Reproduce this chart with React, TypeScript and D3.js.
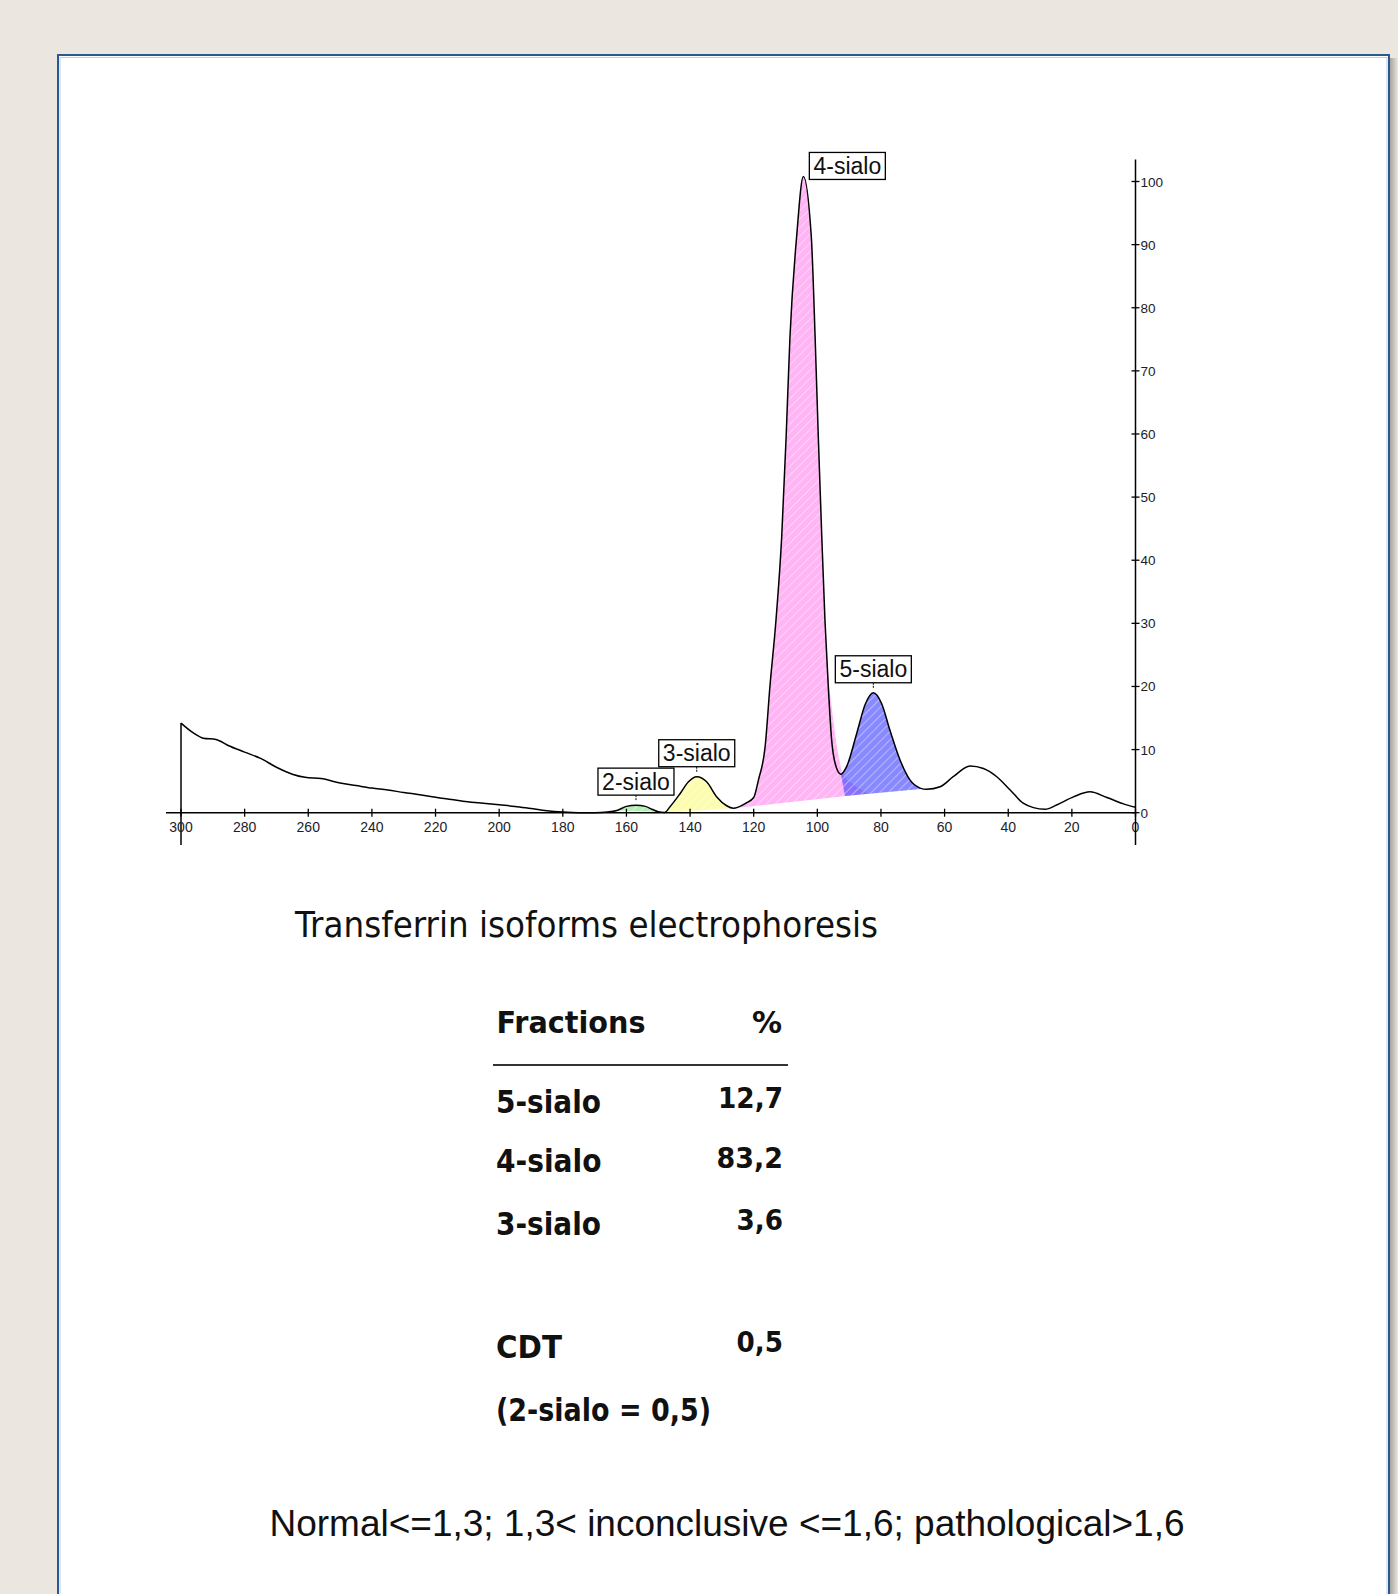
import React from "react";
import * as d3 from "d3";

// densitometry trace: [migration, intensity]
const trace: [number, number][] = [
  [300, 14.2], [296, 12.6], [293, 11.8], [289, 11.6], [285, 10.6], [280, 9.6],
  [275, 8.6], [270, 7.2], [265, 6.1], [261, 5.6], [256, 5.4], [250, 4.7],
  [245, 4.3], [240, 3.9], [235, 3.6], [230, 3.2], [225, 2.85], [220, 2.45],
  [215, 2.1], [210, 1.75], [205, 1.5], [200, 1.25], [195, 1.0], [190, 0.65],
  [185, 0.3], [180, 0.1], [175, 0.0], [170, 0.0], [166, 0.1], [163, 0.35],
  [160, 1.0], [157, 1.2], [154, 1.0], [152, 0.55], [150, 0.15], [148, 0.05],
  [146.3, 0.95], [143.1, 3.05], [140.5, 4.9], [137.9, 5.7], [134.8, 4.9],
  [131.6, 2.5], [128.5, 1.1], [126.4, 0.7], [122.5, 1.5], [120, 2.4],
  [118.5, 5.2], [116.4, 10.5], [114.9, 20], [113.0, 30.5], [111.2, 43.7],
  [109.8, 59.6], [108.6, 75.4], [106.5, 91.3], [104.4, 100.8], [101.9, 91.3],
  [100.7, 75.4], [99.7, 59.6], [98.6, 43.7], [97.6, 30.5], [96.5, 19.4],
  [95.5, 11.5], [94.4, 7.8], [92.6, 6.1], [90.8, 7.3], [87.6, 12.6], [85, 17.1],
  [82.4, 19.0], [79.8, 17.3], [77.2, 13.1], [74, 8.35], [70.9, 5.2], [67.7, 3.9],
  [65.6, 3.7], [61.4, 4.1], [57.3, 5.7], [52, 7.4], [47.8, 7.0], [43.6, 5.7],
  [39.4, 3.6], [35.3, 1.5], [32.1, 0.8], [28.4, 0.54], [24.8, 1.22], [19.5, 2.5],
  [14.3, 3.3], [9, 2.4], [3.8, 1.4], [0, 0.85],
];

// integrated fractions
const fractionNames = ["2-sialo", "3-sialo", "4-sialo", "5-sialo"];
const fractionRanges: [number, number][] = [[163, 150], [148, 126.4], [126.4, 97.6], [92.6, 67.7]];
// fitted right flank of the 4-sialo peak, running under 5-sialo
const fourSialoTail: [number, number][] = [
  [97.6, 30.5], [96.6, 22], [95.5, 16.8], [94.3, 12], [93.3, 8.9], [92.3, 6.6],
  [91.3, 5.6], [89, 4.6], [86.5, 3.7], [84, 3.05],
];
const fourSialoBase: [number, number][] = [[84, 3.05], [126.4, 0.7]];
const fiveSialoBase: [number, number][] = [[66.7, 3.8], [91.3, 2.65]];

// result table
const tableNames = ["5-sialo", "4-sialo", "3-sialo"];
const tablePct = ["12,7", "83,2", "3,6"];
const cdtValue = "0,5";
const twoSialoValue = "0,5";

const fillColors: Record<string, string> = {
  "2-sialo": "#b2efb2",
  "3-sialo": "#fdfdb0",
  "4-sialo": "#ffb4f4",
  "5-sialo": "#5050ff",
};

const W = 1398;
const H = 1594;

const App: React.FC = () => {
  const x = d3.scaleLinear().domain([300, 0]).range([181, 1135.5]);
  const y = d3.scaleLinear().domain([0, 100]).range([812.7, 181.5]);
  const line = d3
    .line<[number, number]>()
    .x((d) => x(d[0]))
    .y((d) => y(d[1]))
    .curve(d3.curveMonotoneX);
  const straight = (pts: [number, number][]) =>
    pts.map((p) => `L${x(p[0])},${y(p[1])}`).join("");

  const inRange = (r: [number, number]) => trace.filter((d) => d[0] <= r[0] && d[0] >= r[1]);

  // fill outlines
  const areas = fractionNames.map((name, i) => {
    const seg = inRange(fractionRanges[i]);
    let d = line(seg) || "";
    if (name === "4-sialo") {
      d += (line(fourSialoTail) || "").replace(/^M/, "L") + straight(fourSialoBase);
    } else if (name === "5-sialo") {
      d += straight(fiveSialoBase);
    }
    return { name, d: d + "Z", seg };
  });

  const axisTop = 159.6;
  const labels = areas.map((a) => {
    const peak = a.seg.reduce((m, p) => (p[1] > m[1] ? p : m), a.seg[0]);
    const px = x(peak[0]);
    const py = y(peak[1]);
    const bw = 76;
    const bh = 27;
    let bx = px - bw / 2;
    let by = py - 10 - bh;
    let tick = true;
    if (by < axisTop) {
      bx = px + 6;
      by = py + 3 - bh;
      tick = false;
    }
    return { name: a.name, px, py, bx, by, bw, bh, tick };
  });

  const xTicks = x.ticks(15);
  const yTicks = y.ticks(10);
  const axisY = y(0);
  const axisX = x(0);

  const rowY = [1113.3, 1172.3, 1235];
  const pctY = [1108.3, 1168.3, 1230];
  const nameLen = [105, 105.5, 105];
  const pctLen = [65, 66.5, 46.5];

  return (
    <svg
      width={W}
      height={H}
      style={{ position: "absolute", left: 0, top: 0, display: "block" }}
    >
      <defs>
        <pattern id="hatch" width="6" height="6" patternUnits="userSpaceOnUse" patternTransform="rotate(45)">
          <line x1="0" y1="0" x2="0" y2="6" stroke="#fff" strokeWidth="1.6" opacity="0.5" />
        </pattern>
        <linearGradient id="shadow" x1="0" x2="1" y1="0" y2="0">
          <stop offset="0" stopColor="#a8a49e" />
          <stop offset="1" stopColor="#ebe6e0" />
        </linearGradient>
      </defs>
      <rect width={W} height={H} fill="#ebe6e0" />
      <rect x={1390} y={58} width={8} height={H} fill="url(#shadow)" />
      <rect x={58} y={55} width={1331} height={1600} fill="#fff" stroke="#2c5890" strokeWidth={2} />
      <rect x={60} y={57.5} width={1327} height={1600} fill="none" stroke="#bccfe6" strokeWidth={1} />

      {/* fractions */}
      {areas.map((a) => (
        <g key={a.name}>
          <path
            d={a.d}
            fill={fillColors[a.name]}
            fillOpacity={a.name === "5-sialo" ? 0.68 : 1}
          />
          <path d={a.d} fill="url(#hatch)" />
        </g>
      ))}

      {/* trace */}
      <path d={line(trace) || ""} fill="none" stroke="#000" strokeWidth={1.5} />
      <line x1={x(300)} x2={x(300)} y1={y(trace[0][1])} y2={845} stroke="#000" strokeWidth={1.5} />

      {/* x axis */}
      <line x1={166} x2={axisX} y1={axisY} y2={axisY} stroke="#000" strokeWidth={1.5} />
      {xTicks.map((t) => (
        <g key={`x${t}`}>
          <line x1={x(t)} x2={x(t)} y1={axisY - 4} y2={axisY + 4} stroke="#000" strokeWidth={1.3} />
          <text
            x={x(t)}
            y={831.5}
            textAnchor="middle"
            fontFamily="Liberation Sans, Arial, sans-serif"
            fontSize={14}
            fill="#1c1c2a"
          >
            {t}
          </text>
        </g>
      ))}

      {/* y axis */}
      <line x1={axisX} x2={axisX} y1={axisTop} y2={845} stroke="#000" strokeWidth={1.5} />
      {yTicks.map((t) => (
        <g key={`y${t}`}>
          <line x1={axisX - 4} x2={axisX + 4} y1={y(t)} y2={y(t)} stroke="#000" strokeWidth={1.3} />
          <text
            x={axisX + 5}
            y={y(t) + 5}
            fontFamily="Liberation Sans, Arial, sans-serif"
            fontSize={13.5}
            fill="#1c1c2a"
          >
            {t}
          </text>
        </g>
      ))}

      {/* peak labels */}
      {labels.map((l) => (
        <g key={`l${l.name}`}>
          {l.tick && (
            <line
              x1={l.px}
              x2={l.px}
              y1={l.by + l.bh}
              y2={l.py - 4}
              stroke="#000"
              strokeWidth={1}
              strokeDasharray="2,1"
            />
          )}
          <rect x={l.bx} y={l.by} width={l.bw} height={l.bh} fill="#fff" stroke="#000" strokeWidth={1.3} />
          <text
            x={l.bx + l.bw / 2}
            y={l.by + l.bh - 5.5}
            textAnchor="middle"
            fontFamily="Liberation Sans, Arial, sans-serif"
            fontSize={23}
            fill="#111"
          >
            {l.name}
          </text>
        </g>
      ))}

      {/* caption */}
      <text
        x={295}
        y={937}
        fontFamily="DejaVu Sans, sans-serif"
        fontSize={35}
        textLength={583}
        lengthAdjust="spacingAndGlyphs"
        fill="#111"
      >
        Transferrin isoforms electrophoresis
      </text>

      {/* table */}
      <g fontFamily="DejaVu Sans, sans-serif" fontWeight="bold" fill="#111">
        <text x={496.5} y={1033} fontSize={31} textLength={149} lengthAdjust="spacingAndGlyphs">
          Fractions
        </text>
        <text x={782} y={1033} fontSize={30} textAnchor="end">
          %
        </text>
        <line x1={493} x2={788} y1={1065} y2={1065} stroke="#333" strokeWidth={2} />
        {tableNames.map((n, i) => (
          <g key={n}>
            <text x={496} y={rowY[i]} fontSize={32} textLength={nameLen[i]} lengthAdjust="spacingAndGlyphs">
              {n}
            </text>
            <text
              x={783 - pctLen[i]}
              y={pctY[i]}
              fontSize={27.5}
              textLength={pctLen[i]}
              lengthAdjust="spacingAndGlyphs"
            >
              {tablePct[i]}
            </text>
          </g>
        ))}
        <text x={496} y={1358} fontSize={32} textLength={66} lengthAdjust="spacingAndGlyphs">
          CDT
        </text>
        <text x={783 - 46.5} y={1352} fontSize={27.5} textLength={46.5} lengthAdjust="spacingAndGlyphs">
          {cdtValue}
        </text>
        <text x={496} y={1421} fontSize={32} textLength={215} lengthAdjust="spacingAndGlyphs">
          {`(2-sialo = ${twoSialoValue})`}
        </text>
      </g>

      <text
        x={269.5}
        y={1536}
        fontFamily="Liberation Sans, Arial, sans-serif"
        fontSize={37}
        textLength={915}
        lengthAdjust="spacingAndGlyphs"
        fill="#111"
      >
        {"Normal<=1,3; 1,3< inconclusive <=1,6; pathological>1,6"}
      </text>
    </svg>
  );
};

export default App;
